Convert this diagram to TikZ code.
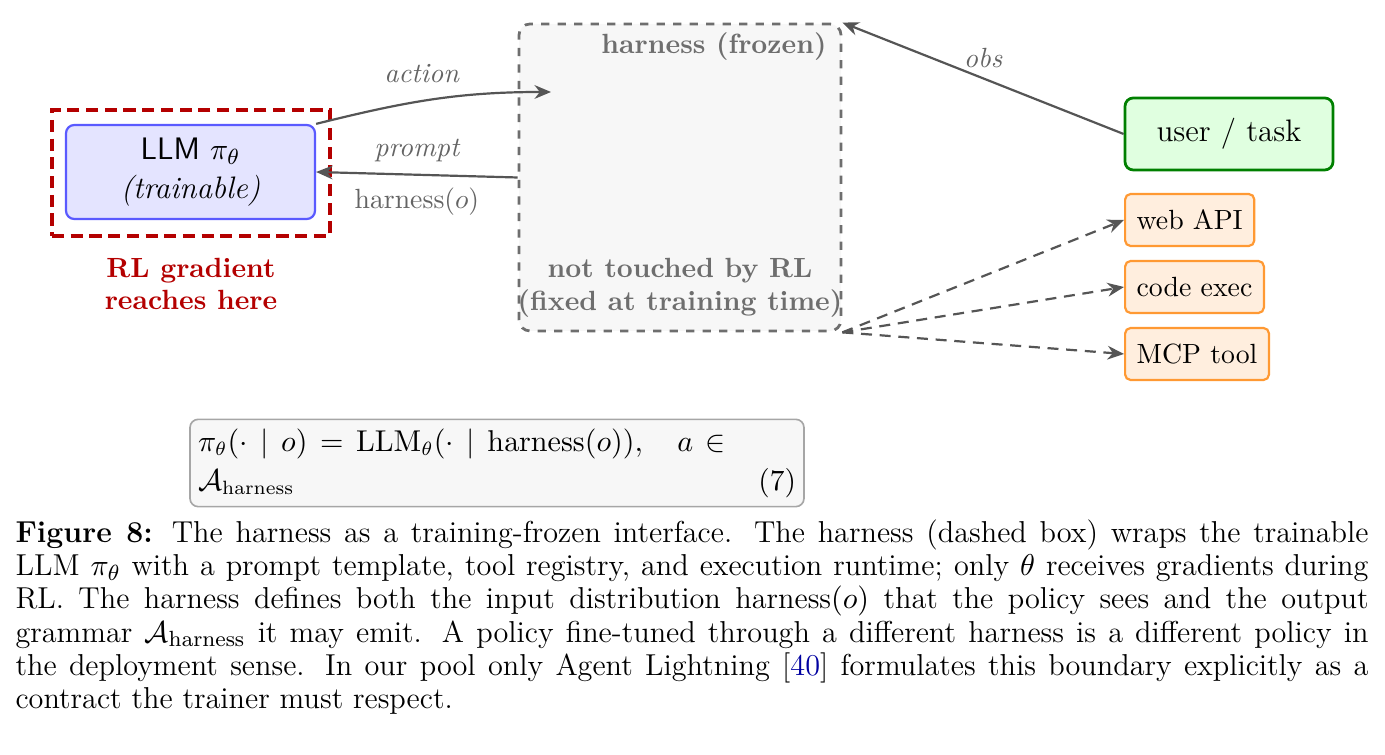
\documentclass[tikz,border=0pt]{standalone}
\usepackage{amsmath}
\usepackage{amssymb}
\usetikzlibrary{arrows.meta}

\definecolor{gradred}{RGB}{180,0,0}
\definecolor{llmblue}{RGB}{90,90,255}
\definecolor{llmfill}{RGB}{228,228,255}
\definecolor{usergreen}{RGB}{0,128,0}
\definecolor{userfill}{RGB}{224,255,224}
\definecolor{toolorange}{RGB}{255,153,51}
\definecolor{toolfill}{RGB}{255,238,222}
\definecolor{frozengray}{RGB}{110,110,110}
\definecolor{frozenfill}{RGB}{247,247,247}
\definecolor{arrowgray}{RGB}{85,85,85}
\definecolor{labelgray}{RGB}{100,100,100}
\definecolor{citeblue}{RGB}{0,0,160}

\newdimen\pxunit \pxunit=0.3636pt
\newcommand\figlabelsize{\fontsize{10.1}{11.8}\selectfont}
\newcommand\figboxsize{\fontsize{11.3}{14}\selectfont}
\newcommand\figcapsize{\fontsize{11}{12}\selectfont}

\begin{document}
\begin{tikzpicture}[x=0.3636pt, y=-0.3636pt,
	>={Stealth[length=6pt,width=5pt]},
	flow/.style={->, draw=arrowgray, line width=0.8pt},
	toolcall/.style={flow, dash pattern=on 4pt off 2.8pt},
	lbl/.style={font=\figlabelsize\itshape, text=labelgray},
	llmbox/.style={draw=llmblue, fill=llmfill, line width=0.8pt, rounded corners=3pt,
		minimum width=249\pxunit, minimum height=94\pxunit, align=center, font=\figboxsize},
	gradbox/.style={draw=gradred, line width=1.5pt, dash pattern=on 4.4pt off 2.4pt,
		minimum width=278\pxunit, minimum height=126\pxunit},
	frozenbox/.style={draw=frozengray, fill=frozenfill, line width=1pt, dashed, rounded corners=4pt,
		minimum width=322\pxunit, minimum height=307\pxunit},
	frozentext/.style={font=\figlabelsize\bfseries, text=frozengray, align=center},
	userbox/.style={draw=usergreen, fill=userfill, line width=1pt, rounded corners=3pt,
		minimum width=208\pxunit, minimum height=72\pxunit, font=\figboxsize},
	toolbox/.style={draw=toolorange, fill=toolfill, line width=0.8pt, rounded corners=2pt,
		minimum height=52\pxunit, anchor=west, font=\figlabelsize, inner xsep=4.2pt},
	]
	%\draw[help lines] (0,0) grid[step=100] (1385,755);
	\useasboundingbox (0,0) rectangle (1385,755);

	% trainable side
	\node[gradbox] (grad) at (191,173) {};
	\node[llmbox] (llm) at (190.5,172) {\textsf{LLM} $\pi_{\theta}$\\\textit{(trainable)}};
	\node[font=\figlabelsize\bfseries, text=gradred, align=center] (gradnote) at (191,284) {RL gradient\\reaches here};

	% frozen harness
	\node[frozenbox] (harness) at (680,177.5) {};
	\node[frozentext, anchor=base east, inner sep=0pt] (frozen) at (827,54) {harness (frozen)};
	\node[frozentext] (untouched) at (680,288) {not touched by RL\\(fixed at training time)};
	\coordinate (actin) at (551,92);

	% environment
	\node[userbox] (user) at (1229,134) {user / task};
	\node[toolbox] (web) at (1124,220) {web API};
	\node[toolbox] (code) at (1124,287) {code exec};
	\node[toolbox] (mcp) at (1124,354) {MCP tool};

	\draw[flow] (llm.north east) to[out=14,in=180] node[lbl, above, pos=0.45, yshift=3pt] {action} (actin);
	\draw[flow] (harness.west) -- node[lbl, above, yshift=1pt] {prompt}
		node[below, font=\figlabelsize, text=labelgray, yshift=-1pt] {harness$(o)$} (llm.east);
	\draw[flow] (user.west) -- node[lbl, above, pos=0.5] {obs} (harness.north east);
	\foreach \tool in {web,code,mcp}
		\draw[toolcall] (harness.south east) -- (\tool.west);

	% equation
	\node[draw=gray!70, fill=frozenfill, line width=0.6pt, rounded corners=3pt,
		minimum width=614\pxunit, minimum height=84\pxunit, inner xsep=0pt] (eq) at (497,463)
		{\begin{minipage}{598\pxunit}\fontsize{10.7}{14.2}\selectfont
		\hbox to 528\pxunit{$\pi_{\theta}(\cdot \mid o) = \mathrm{LLM}_{\theta}(\cdot \mid \mathrm{harness}(o)), \quad a \in$}\par
		$\mathcal{A}_{\mathrm{harness}}$\hfill(7)\end{minipage}};

	% caption
	\node[anchor=base west, inner sep=0pt] (caption) at (15,543)
		{\begin{minipage}[t]{1353\pxunit}\figcapsize
		\textbf{Figure 8:} The harness as a training-frozen interface. The harness (dashed box) wraps the trainable\linebreak
		LLM $\pi_{\theta}$ with a prompt template, tool registry, and execution runtime; only $\theta$ receives gradients during\linebreak
		RL. The harness defines both the input distribution harness$(o)$ that the policy sees and the output\linebreak
		grammar $\mathcal{A}_{\mathrm{harness}}$ it may emit. A policy fine-tuned through a different harness is a different policy in\linebreak
		the deployment sense. In our pool only Agent Lightning [\textcolor{citeblue}{40}] formulates this boundary explicitly as a\linebreak
		contract the trainer must respect.\end{minipage}};
\end{tikzpicture}
\end{document}
